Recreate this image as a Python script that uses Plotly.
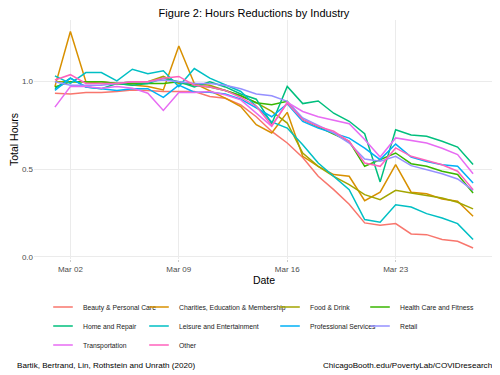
import plotly.graph_objects as go
import pandas as pd

dates = pd.date_range("2020-03-01", "2020-03-28").strftime("%Y-%m-%d").tolist()

industries = ["Beauty & Personal Care", "Charities, Education & Membership", "Food & Drink",
              "Health Care and Fitness", "Home and Repair", "Leisure and Entertainment",
              "Professional Services", "Retail", "Transportation", "Other"]
colors = ["#F8766D", "#D89000", "#A3A500", "#39B600", "#00BF7D", "#00BFC4",
          "#00B0F6", "#9590FF", "#E76BF3", "#FF62BC"]

beauty = [0.934, 0.93, 0.938, 0.938, 0.944, 0.953, 0.95, 0.944, 0.944, 0.944, 0.915, 0.905, 0.868, 0.80,
          0.716, 0.65, 0.567, 0.46, 0.384, 0.30, 0.194, 0.18, 0.19, 0.131, 0.127, 0.099, 0.089, 0.051]
charities = [0.972, 1.286, 1.0, 0.99, 0.99, 0.98, 0.972, 0.953, 1.204, 0.99, 0.95, 0.906, 0.858, 0.754,
             0.707, 0.825, 0.574, 0.517, 0.47, 0.46, 0.321, 0.369, 0.527, 0.369, 0.36, 0.331, 0.318, 0.232]
food = [1.0, 1.0, 1.0, 1.0, 0.99, 1.0, 1.0, 1.03, 0.99, 0.99, 0.98, 0.95, 0.92, 0.88,
        0.83, 0.764, 0.593, 0.517, 0.46, 0.412, 0.355, 0.327, 0.38, 0.365, 0.35, 0.336, 0.312, 0.274]
health = [0.97, 1.0, 1.0, 1.0, 0.99, 0.99, 0.99, 0.99, 1.0, 0.98, 0.97, 0.95, 0.92, 0.88,
          0.868, 0.888, 0.783, 0.741, 0.698, 0.66, 0.517, 0.555, 0.593, 0.532, 0.517, 0.489, 0.47, 0.365]
home = [0.96, 1.02, 0.97, 0.96, 0.99, 0.98, 0.99, 1.02, 1.0, 0.97, 1.0, 0.97, 0.93, 0.90,
        0.76, 0.973, 0.875, 0.89, 0.82, 0.774, 0.703, 0.428, 0.726, 0.696, 0.688, 0.66, 0.627, 0.527]
leisure = [1.033, 0.99, 1.052, 1.052, 1.005, 1.071, 1.045, 1.062, 0.972, 1.075, 1.02, 0.982, 0.944, 0.86,
           0.77, 0.735, 0.64, 0.536, 0.46, 0.384, 0.213, 0.198, 0.298, 0.285, 0.247, 0.222, 0.19, 0.099]
professional = [0.95, 1.02, 0.97, 0.96, 0.95, 0.96, 0.96, 0.91, 0.98, 0.94, 0.94, 0.93, 0.90, 0.85,
                0.80, 0.874, 0.773, 0.735, 0.707, 0.678, 0.621, 0.555, 0.644, 0.57, 0.545, 0.526, 0.517, 0.422]
retail = [1.0, 0.98, 0.98, 0.98, 0.99, 1.0, 1.0, 1.01, 1.0, 0.99, 0.99, 0.98, 0.96, 0.93,
          0.92, 0.888, 0.793, 0.749, 0.707, 0.65, 0.559, 0.546, 0.574, 0.521, 0.498, 0.475, 0.445, 0.38]
transportation = [0.855, 0.972, 0.972, 0.963, 0.972, 0.963, 0.934, 0.836, 0.938, 0.938, 0.944, 0.925, 0.896, 0.82,
                  0.745, 0.882, 0.83, 0.80, 0.78, 0.76, 0.67, 0.57, 0.679, 0.665, 0.65, 0.62, 0.584, 0.475]
other = [1.01, 1.04, 0.99, 0.99, 0.99, 1.0, 1.0, 1.02, 1.03, 0.98, 0.97, 0.95, 0.91, 0.86,
         0.75, 0.878, 0.783, 0.745, 0.717, 0.66, 0.536, 0.517, 0.622, 0.574, 0.551, 0.526, 0.489, 0.384]

series = [beauty, charities, food, health, home, leisure, professional, retail, transportation, other]

tick_dates = ["2020-03-02", "2020-03-09", "2020-03-16", "2020-03-23"]
tick_labels = ["Mar 02", "Mar 09", "Mar 16", "Mar 23"]
y_ticks = [0.0, 0.5, 1.0]
y_tick_labels = ["0.0", "0.5", "1.0"]

# legend column assignment (ggplot fills row-wise over 4 columns)
legend_cols = ["legend", "legend2", "legend3", "legend4"]

FONT = "Liberation Sans, Arial, sans-serif"

fig = go.Figure()
for i, (name, vals, col) in enumerate(zip(industries, series, colors)):
    fig.add_trace(go.Scatter(x=dates, y=vals, mode="lines", name=name,
                             line=dict(color=col, width=1.5),
                             legendgroup=name, showlegend=False))
    # legend key: short horizontal line like ggplot's
    fig.add_trace(go.Scatter(x=[None], y=[None], mode="markers", name=name,
                             marker=dict(symbol="line-ew", size=14, color=col,
                                         line=dict(color=col, width=1.5)),
                             legendgroup=name, showlegend=True,
                             legend=legend_cols[i % 4]))

# page body has an 8px margin, so the figure is drawn 8px smaller and offset
OFF = 8
W, H = 500 - OFF, 375 - OFF
L, T = 34 - OFF, 20 - OFF
R = W - (494 - OFF)
B = H - (259.4 - OFF)
pw, ph = W - L - R, H - T - B

def lx(px):
    return (px - OFF - L) / pw

def ly(py):
    return (H - B - (py - OFF)) / ph

legend_common = dict(font=dict(family=FONT, size=6.8, color="#1a1a1a"), bgcolor="rgba(0,0,0,0)",
                     orientation="v", xanchor="left", yanchor="top", tracegroupgap=0,
                     itemwidth=30, y=ly(293))
col_x = [43, 139, 270, 360]

fig.update_layout(
    width=W, height=H,
    margin=dict(l=L, r=R, t=T, b=B, autoexpand=False),
    paper_bgcolor="white", plot_bgcolor="white",
    font=dict(family=FONT, color="black"),
    title=dict(text="Figure 2: Hours Reductions by Industry", x=lx(264), xanchor="center",
               y=1 - (13 - OFF) / H, yanchor="middle", font=dict(size=11, family=FONT, color="black")),
    showlegend=True,
    legend=dict(x=lx(col_x[0]), **legend_common),
    legend2=dict(x=lx(col_x[1]), **legend_common),
    legend3=dict(x=lx(col_x[2]), **legend_common),
    legend4=dict(x=lx(col_x[3]), **legend_common),
    xaxis=dict(type="date", range=["2020-02-28 15:36", "2020-03-29 08:24"],
               tickvals=tick_dates, ticktext=tick_labels,
               showgrid=True, gridcolor="#EBEBEB", gridwidth=1, zeroline=False,
               ticks="outside", ticklen=2, tickcolor="#CCCCCC",
               tickfont=dict(size=8, color="#4D4D4D", family=FONT),
               title=dict(text="Date", font=dict(size=10.5, color="black", family=FONT), standoff=4),
               showline=False, automargin=False),
    yaxis=dict(range=[-0.012, 1.352], tickvals=y_ticks, ticktext=y_tick_labels,
               showgrid=True, gridcolor="#EBEBEB", gridwidth=1, zeroline=False,
               ticks="", tickfont=dict(size=8, color="#4D4D4D", family=FONT),
               title=dict(text="Total Hours", font=dict(size=10.5, color="black", family=FONT), standoff=4),
               showline=False, automargin=False),
    annotations=[
        dict(text="Bartik, Bertrand, Lin, Rothstein and Unrath (2020)", xref="paper", yref="paper",
             x=lx(15), y=ly(366), xanchor="left", yanchor="middle", showarrow=False,
             font=dict(size=8.1, color="black", family=FONT)),
        dict(text="ChicagoBooth.edu/PovertyLab/COVIDresearch", xref="paper", yref="paper",
             x=lx(494), y=ly(366), xanchor="right", yanchor="middle", showarrow=False,
             font=dict(size=8.1, color="black", family=FONT)),
    ],
)

fig.write_html("out.html")
